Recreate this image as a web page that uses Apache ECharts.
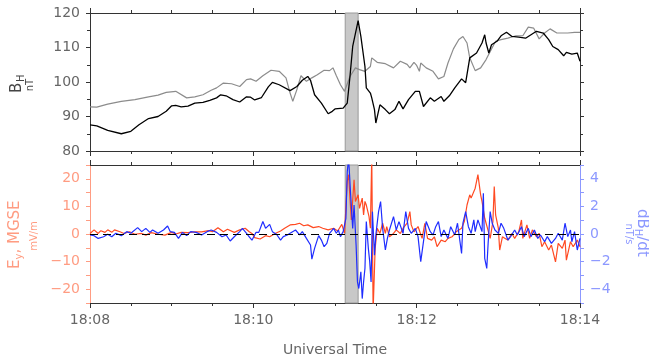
<!DOCTYPE html>
<html>
<head>
<meta charset="utf-8">
<script src="https://cdn.jsdelivr.net/npm/echarts@6/dist/echarts.min.js"></script>
<style>
html, body { margin: 0; padding: 0; background: #fff; }
#chart { width: 649px; height: 358px; }
</style>
</head>
<body>
<div id="chart"></div>
<script>
// all times are seconds after 18:08:00 UT
const bhTimes = [0, 5, 13, 23, 30, 36, 43, 50, 56, 60, 63, 67, 72, 77, 83, 88, 93, 96, 100, 105,
  110, 115, 118, 121, 126, 131, 134, 139, 147, 152, 156, 160, 162, 165, 170, 175, 178, 180, 186, 189,
  191, 193, 197, 199, 202, 203, 206, 207, 209, 210, 213, 217, 220, 224, 227, 230, 234, 239, 242, 245,
  250, 253, 258, 260, 264, 268, 273, 276, 279, 284, 288, 290, 291, 293, 295, 299, 302, 306, 310, 315,
  320, 324, 328, 333, 337, 340, 344, 348, 350, 354, 358, 360];
const bhValues = [87.6, 87.3, 86.0, 85.0, 85.7, 87.6, 89.4, 90.0, 91.5, 93.1, 93.2, 92.8, 93.0, 93.9, 94.1, 94.7, 95.4, 96.3, 96.0, 94.9,
  94.2, 95.7, 95.6, 94.8, 95.5, 98.6, 99.9, 99.2, 97.5, 98.7, 100.5, 101.6, 100.5, 96.3, 93.9, 90.8, 91.5, 92.2, 92.4, 93.9,
  101.6, 110.3, 117.8, 113.2, 104.5, 98.3, 96.8, 95.4, 92.0, 88.1, 93.4, 92.0, 90.8, 92.0, 94.4, 92.2, 94.9, 97.3, 97.3, 92.9,
  95.4, 94.4, 95.8, 94.4, 96.0, 98.3, 100.9, 99.8, 107.0, 108.4, 111.3, 113.7, 111.3, 108.4, 110.8, 111.8, 113.4, 114.4, 113.2, 113.0,
  112.7, 113.7, 114.7, 114.2, 112.3, 110.3, 109.4, 107.6, 108.6, 108.1, 108.4, 106.0];

const bhRefTimes = [0, 5, 13, 23, 33, 43, 50, 56, 63, 71, 77, 83, 89, 93, 98, 104, 110, 115, 118, 122,
  127, 133, 139, 144, 147, 149, 152, 155, 159, 163, 167, 172, 176, 178.5, 181, 184, 187, 191, 195, 198,
  202, 206, 207, 211, 217, 223, 228, 233, 235, 238, 240, 242, 243, 247, 252, 256, 260, 263, 267, 271,
  274, 277, 279, 283, 287, 291, 295, 298, 302, 307, 313, 318, 322, 326, 330, 334, 338, 343, 351, 356, 360];
const bhRefValues = [92.8, 92.7, 93.6, 94.4, 94.9, 95.7, 96.2, 97.0, 97.3, 95.4, 95.7, 96.3, 97.6, 98.3, 99.7, 99.5, 98.7, 100.7, 100.9, 100.2,
  101.8, 103.4, 103.1, 101.2, 96.8, 94.4, 97.8, 101.8, 100.2, 101.2, 102.1, 103.4, 103.3, 104.1, 101.8, 99.2, 97.3, 101.6, 104.1, 103.6,
  103.1, 104.5, 107.0, 105.7, 105.3, 104.1, 106.0, 105.1, 104.1, 105.7, 104.8, 103.1, 105.5, 104.1, 103.1, 100.9, 101.6, 105.5, 109.6, 112.3,
  113.2, 111.3, 107.0, 103.3, 104.1, 106.5, 109.6, 111.8, 112.3, 112.7, 113.4, 113.4, 115.9, 115.6, 112.5, 114.2, 115.4, 114.2, 114.2, 114.4, 114.4];

const eyTimes = [0, 3, 6, 8, 11, 13, 16, 18, 22, 25, 29, 33, 38, 41, 45, 50, 55, 60, 63, 67,
  72, 77, 82, 87, 90, 94, 98, 101, 106, 110, 114, 117, 119, 121, 125, 129, 132, 136, 140, 143,
  147, 151, 154, 157, 160, 164, 168, 171, 175, 179, 182, 185, 187, 189, 190, 191, 192, 194, 195, 197,
  198, 200, 201, 202, 203, 205, 206, 207, 208, 209.5, 211, 213, 215, 217, 218, 220, 223, 225, 228, 230,
  233, 235, 236, 238, 239, 241, 244, 246, 248, 251, 253, 255, 258, 261, 263, 266, 269, 273, 275, 277,
  279, 280, 283, 285, 287, 288, 290, 292, 294, 296, 297, 298, 300, 301, 303, 305, 307, 310, 312, 315,
  317, 318, 321, 323, 325, 328, 330, 332, 334, 337, 339, 342, 344, 347, 349, 350, 353, 355, 358, 360];
const eyValues = [0.2, 1.5, 0.2, 1.2, 0.6, 1.5, 0.6, 1.5, 0.8, 0.2, 0.8, -0.1, 0.2, -0.4, 0.5, -0.1, -0.4, 0.6, 0, 0.6,
  0.5, 0.8, 0.8, 1.2, 0.8, 2.3, 0.8, 1.7, 0.6, 1.5, 2.1, 0.8, 0.2, -1.3, -1.8, -0.6, -1.0, 0.2, 1.1, 2.1,
  3.3, 3.5, 3.9, 3.0, 3.3, 2.3, 2.7, 2.1, 1.5, 2.1, 1.1, 3.5, 0.2, 19.0, 21.5, 13.0, 5.1, 19.6, 11.8, 14.2,
  9.3, 13.0, 6.9, 11.8, 10.5, 6.3, 2.1, 28, -28, -5.2, 2.1, 0.2, 3.9, 0.2, 2.7, -1.0, 0.2, 1.5, 0.2, 2.1,
  3.9, 8.1, 3.3, 0.8, 1.5, 2.7, -1.6, 3.9, -1.6, -2.2, -1.0, -4.6, -2.2, -2.8, -1.6, -1.0, 0.8, 2.1, 4.5, 10.5,
  14.2, 13.0, 16.6, 21.5, 14.2, 11.8, 5.7, 2.1, -1.6, 4.5, 17.2, 6.9, 2.1, -5.8, -1.0, -1.6, -2.2, 0.2, -1.6, 0.8,
  5.1, -1.6, 3.3, -1.6, 1.5, -1.0, 0.2, -4.6, -2.8, -5.8, -4.0, -10.1, -3.4, -5.2, -2.2, -9.5, -2.8, -4.6, -2.2, -4.6];

const dbTimes = [0, 1, 3, 6, 10, 13, 16, 19, 23, 27, 30, 35, 38, 41, 44, 46, 50, 54, 57, 59,
  62, 65, 68, 71, 74, 78, 82, 86, 89, 93, 97, 100, 103, 106, 110, 112, 115, 117, 119, 122,
  124, 127, 129, 132, 134, 137, 140, 142, 145, 147, 151, 154, 156, 159, 162, 163, 165, 168, 170, 172,
  174, 176, 179, 181, 182.5, 184, 186, 188, 189, 190, 191.5, 193, 194, 195.5, 196.5, 197.5, 199, 200, 201, 202,
  203, 204.5, 205.5, 206.5, 207.5, 209, 210, 212, 213.5, 215, 217, 218.5, 220, 223, 225, 227, 230, 232, 234, 236,
  239, 241, 243, 246, 247, 250, 252, 254, 256, 258, 260, 263, 265, 268, 270, 273, 274, 276, 278, 280,
  282, 283, 285, 288, 289, 290, 291.5, 292.5, 294, 295.5, 297.5, 300, 302, 304, 307, 309, 312, 314, 317, 319,
  322, 324, 326.5, 329, 331, 334, 336, 339, 342, 344, 347, 349, 351, 353, 354, 356, 358, 360];
const dbValues = [-0.07, 0.05, -0.12, -0.32, -0.2, -0.02, -0.2, 0.05, -0.12, 0.17, 0.05, 0.46, 0.17, 0.41, 0.12, 0.29, 0.05, 0.29, 0.58, 0.17,
  0.12, -0.32, 0.12, -0.12, 0.17, 0.12, -0.07, 0.17, 0.29, 0.12, -0.2, -0.07, -0.51, -0.2, 0.17, 0.41, 0.05, -0.2, -0.45, 0.12,
  0.12, 0.9, 0.41, 0.7, 0.17, -0.02, -0.44, -0.19, -0.07, 0.05, 0.29, -0.07, 0.17, -0.32, -0.8, -1.82, -1.04, -0.12, -0.44, -0.92,
  -0.68, 0.05, 0.41, 0.05, 0.29, -0.19, 0.17, 1.14, 4.5, 5.5, 2.84, 0.41, 2.1, -0.8, -3.47, -3.95, -2.74, -4.68, -3.47, -2.5,
  0.9, -1.04, -2.0, -3.47, 1.62, -1.53, -0.07, 1.62, 2.35, 0.41, -1.16, -0.32, 0.29, 1.26, 0.29, 0.9, 0.05, 1.62, 0.41, 0.05,
  0.41, -0.19, -2.0, 0.17, 0.9, 0.17, -0.07, 0.53, 0.9, -0.19, 0.29, -0.32, 0.53, -0.07, 0.78, -1.41, 0.78, 1.62, 0.53, 0.05,
  1.02, 0.17, 1.02, 0.17, 2.96, -1.77, -2.5, -0.68, 1.62, 0.78, 0.29, 0.05, 0.78, 0.41, -0.44, -0.19, 0.29, -0.07, 0.53, -0.19,
  0.41, -0.19, 0.29, -0.32, -0.07, -0.56, -0.19, -0.68, -0.32, 0.05, -0.44, 0.78, -0.19, 0.29, -0.56, 0.17, -1.16, -0.32];

// shaded interval (s)
const shadeStart = 187.5;
const shadeEnd = 197;
const timeLabels = ['18:08', '18:10', '18:12', '18:14'];

const font = 'DejaVu Sans';
const axisColor = '#333';
const eyColor = '#ff4a22';
const eyAxisColor = '#ff9c82';
const dbColor = '#1f2dff';
const dbAxisColor = '#8c98ff';

function pairs(ts, vs) {
  return ts.map((t, i) => [t, vs[i]]);
}

function minus(v) {
  return v < 0 ? '\u2212' + (-v) : String(v);
}

function timeAxis(grid, pos, showLabels) {
  return {
    type: 'value', gridIndex: grid, position: pos,
    min: 0, max: 360, interval: 120,
    axisLine: { show: true, onZero: false, lineStyle: { color: axisColor, width: 1 } },
    axisTick: { show: true, length: 5, lineStyle: { color: axisColor } },
    minorTick: { show: true, splitNumber: 4, length: 3, lineStyle: { color: axisColor } },
    splitLine: { show: false },
    minorSplitLine: { show: false },
    axisLabel: showLabels ? {
      show: true, margin: 10, fontFamily: font, fontSize: 14, color: '#666',
      formatter: v => timeLabels[Math.round(v / 120)]
    } : { show: false },
    name: showLabels ? 'Universal Time' : '',
    nameLocation: 'middle', nameGap: 40,
    nameTextStyle: { fontFamily: font, fontSize: 14, color: '#666' }
  };
}

function valueAxis(grid, pos, min, max, interval, color, labelColor, fmt, minor) {
  return {
    type: 'value', gridIndex: grid, position: pos,
    min: min, max: max, interval: interval,
    axisLine: { show: true, onZero: false, lineStyle: { color: color, width: 1 } },
    axisTick: { show: true, length: 4, lineStyle: { color: color } },
    minorTick: { show: !!minor, splitNumber: minor || 5, length: 3, lineStyle: { color: color } },
    splitLine: { show: false },
    minorSplitLine: { show: false },
    axisLabel: fmt ? {
      show: true, margin: 10, fontFamily: font, fontSize: 14, color: labelColor, formatter: fmt
    } : { show: false }
  };
}

function vtext(x, y, text, size, color, rot, align) {
  return {
    type: 'text', x: x, y: y, rotation: rot, silent: true,
    style: { text: text, fontFamily: font, fontSize: size, fill: color, align: align || 'center', verticalAlign: 'middle' }
  };
}

const up = Math.PI / 2;
const down = -Math.PI / 2;

const chart = echarts.init(document.getElementById('chart'), null, { renderer: 'canvas' });
chart.setOption({
  animation: false,
  backgroundColor: '#fff',
  grid: [
    { left: 90, top: 13, width: 490, height: 138 },
    { left: 90, top: 165, width: 490, height: 138 }
  ],
  xAxis: [
    timeAxis(0, 'bottom', false),
    timeAxis(0, 'top', false),
    timeAxis(1, 'top', false),
    timeAxis(1, 'bottom', true)
  ],
  yAxis: [
    valueAxis(0, 'left', 80, 120, 10, axisColor, '#666', v => String(v), 2),
    valueAxis(0, 'right', 80, 120, 10, axisColor, null, null, 2),
    valueAxis(1, 'left', -25, 25, 5, eyAxisColor, eyAxisColor,
      v => (v % 10 === 0 && Math.abs(v) < 25 ? minus(v) : '')),
    valueAxis(1, 'right', -5, 5, 1, dbAxisColor, dbAxisColor,
      v => (v % 2 === 0 && Math.abs(v) < 5 ? minus(v) : ''))
  ],
  graphic: [
    vtext(17, 93, 'B', 15, '#444', up, 'left'),
    vtext(21, 82, 'H', 10, '#444', up, 'left'),
    vtext(30, 85, 'nT', 10, '#444', up),
    vtext(15, 269, 'E', 15, eyAxisColor, up, 'left'),
    vtext(19, 259.5, 'y', 10, eyAxisColor, up, 'left'),
    vtext(15, 253.6, ', MGSE', 15, eyAxisColor, up, 'left'),
    vtext(34, 236, 'mV/m', 10, eyAxisColor, up),
    vtext(642, 209, 'dB', 15, dbAxisColor, down, 'left'),
    vtext(638, 228.8, 'H', 10, dbAxisColor, down, 'left'),
    vtext(642, 236.3, '/dt', 15, dbAxisColor, down, 'left'),
    vtext(629, 234, 'nT/s', 10, dbAxisColor, down)
  ],
  series: [
    {
      name: 'BH ref', type: 'line', xAxisIndex: 0, yAxisIndex: 0,
      data: pairs(bhRefTimes, bhRefValues), showSymbol: false,
      lineStyle: { color: '#8c8c8c', width: 1.2 },
      markArea: {
        silent: true,
        itemStyle: { color: '#c8c8c8', borderColor: '#9a9a9a', borderWidth: 1 },
        data: [[{ xAxis: shadeStart }, { xAxis: shadeEnd }]]
      }
    },
    {
      name: 'BH', type: 'line', xAxisIndex: 0, yAxisIndex: 0,
      data: pairs(bhTimes, bhValues), showSymbol: false,
      lineStyle: { color: '#000', width: 1.3 }
    },
    {
      name: 'Ey', type: 'line', xAxisIndex: 3, yAxisIndex: 2,
      data: pairs(eyTimes, eyValues), showSymbol: false,
      lineStyle: { color: eyColor, width: 1.2 },
      markArea: {
        silent: true,
        itemStyle: { color: '#c8c8c8', borderColor: '#9a9a9a', borderWidth: 1 },
        data: [[{ xAxis: shadeStart }, { xAxis: shadeEnd }]]
      },
      markLine: {
        silent: true, symbol: 'none', label: { show: false },
        lineStyle: { color: '#000', type: [8, 5], width: 1 },
        data: [{ yAxis: 0 }]
      }
    },
    {
      name: 'dBH/dt', type: 'line', xAxisIndex: 3, yAxisIndex: 3,
      data: pairs(dbTimes, dbValues), showSymbol: false,
      lineStyle: { color: dbColor, width: 1.2 }
    }
  ]
});
</script>
</body>
</html>
